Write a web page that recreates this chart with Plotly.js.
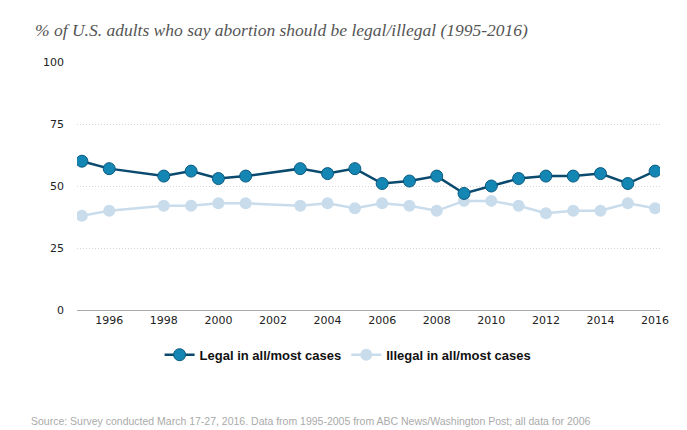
<!DOCTYPE html>
<html>
<head>
<meta charset="utf-8">
<script src="https://cdn.plot.ly/plotly-3.0.1.min.js"></script>
<style>
html,body{margin:0;padding:0;background:#fff;}
#chart{width:687px;height:430px;}
</style>
</head>
<body>
<div id="chart"></div>
<script>
const years = [1995, 1996, 1998, 1999, 2000, 2001, 2003, 2004, 2005, 2006, 2007, 2008, 2009, 2010, 2011, 2012, 2013, 2014, 2015, 2016];
const legal = [60, 57, 54, 56, 53, 54, 57, 55, 57, 51, 52, 54, 47, 50, 53, 54, 54, 55, 51, 56];
const illegal = [38, 40, 42, 42, 43, 43, 42, 43, 41, 43, 42, 40, 44, 44, 42, 39, 40, 40, 43, 41];
const xTicks = [1996, 1998, 2000, 2002, 2004, 2006, 2008, 2010, 2012, 2014, 2016];
const yTicks = [0, 25, 50, 75, 100];
const seriesNames = ["Legal in all/most cases", "Illegal in all/most cases"];

const traces = [
  {
    x: years, y: illegal, name: seriesNames[1], type: 'scatter', mode: 'lines+markers',
    line: {color: '#c9dcec', width: 2.5},
    marker: {color: '#c9dcec', size: 12, line: {color: '#c9dcec', width: 0}},
    showlegend: true, legendrank: 2
  },
  {
    x: years, y: legal, name: seriesNames[0], type: 'scatter', mode: 'lines+markers',
    line: {color: '#0a4a6e', width: 2.5},
    marker: {color: '#1386b4', size: 12, line: {color: '#0a5a80', width: 1}},
    showlegend: true, legendrank: 1
  }
];

const layout = {
  width: 687, height: 430,
  paper_bgcolor: '#fff', plot_bgcolor: '#fff',
  margin: {l: 77, r: 27, t: 62, b: 120},
  xaxis: {
    range: [1994.82, 2016.18],
    tickvals: xTicks, ticktext: xTicks.map(String),
    showgrid: false, zeroline: false,
    showline: true, linecolor: '#aaa', linewidth: 1,
    ticks: '', tickfont: {family: 'DejaVu Sans, sans-serif', size: 11, color: '#222'},
    fixedrange: true
  },
  yaxis: {
    range: [0, 100],
    tickvals: yTicks, ticktext: yTicks.map(String),
    showgrid: true, gridcolor: '#d4d4d4', griddash: '1px,2px', gridwidth: 1,
    zeroline: false, showline: false, ticks: '',
    ticklabelstandoff: 12,
    tickfont: {family: 'DejaVu Sans, sans-serif', size: 11, color: '#222'},
    fixedrange: true
  },
  legend: {
    orientation: 'h', x: 0.465, xanchor: 'center', y: -0.12, yanchor: 'top',
    font: {family: 'Liberation Sans, Arial, sans-serif', size: 13, color: '#111', weight: 'bold'},
    itemwidth: 30, traceorder: 'normal'
  },
  annotations: [
    {
      text: '% of U.S. adults who say abortion should be legal/illegal (1995-2016)',
      xref: 'paper', yref: 'paper', x: -0.0755, y: 1.129, xanchor: 'left', yanchor: 'middle',
      showarrow: false,
      font: {family: 'Liberation Serif, serif', size: 17.5, color: '#555', style: 'italic'}
    },
    {
      text: 'Source: Survey conducted March 17-27, 2016. Data from 1995-2005 from ABC News/Washington Post; all data for 2006',
      xref: 'paper', yref: 'paper', x: -0.082, y: -0.415, xanchor: 'left', yanchor: 'top',
      showarrow: false,
      font: {family: 'Liberation Sans, Arial, sans-serif', size: 10.5, color: '#aaa'}
    }
  ],
  showlegend: true
};

Plotly.newPlot('chart', traces, layout, {displayModeBar: false, staticPlot: true});
</script>
</body>
</html>
